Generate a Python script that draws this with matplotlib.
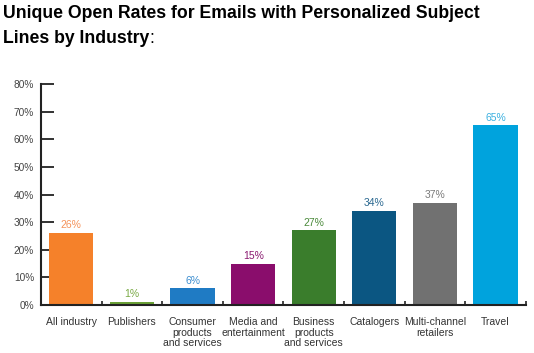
import matplotlib
matplotlib.use("Agg")
import matplotlib.pyplot as plt
import numpy as np

# data
categories = ["All industry", "Publishers", "Consumer\nproducts\nand services",
              "Media and\nentertainment", "Business\nproducts\nand services",
              "Catalogers", "Multi-channel\nretailers", "Travel"]
values = [26, 1, 6, 15, 27, 34, 37, 65]
bar_colors = ["#F5812A", "#6AA136", "#1F7BC4", "#8A0D6C",
              "#3A7D2C", "#0B5682", "#717171", "#00A3DD"]
label_colors = ["#F5925A", "#7AAA45", "#3A8DD0", "#8A1A70",
                "#4A8A3A", "#2A6890", "#7A7A7A", "#3AB0E0"]
yticks = [0, 10, 20, 30, 40, 50, 60, 70, 80]

plt.rcParams['font.family'] = ['Liberation Sans', 'DejaVu Sans']

fig = plt.figure(figsize=(5.34, 3.53), dpi=100)
ax = fig.add_axes([0.0768, 0.136, 0.908, 0.626])

x = np.arange(len(values))
bars = ax.bar(x, values, width=0.73, color=bar_colors, linewidth=0, zorder=2)

for xi, v, c in zip(x, values, label_colors):
    ax.annotate(f"{v}%", (xi, v), xytext=(0, 2), textcoords="offset points",
                ha="center", va="bottom", fontsize=7.5, color=c)

ax.set_xlim(-0.5, len(values) - 0.5)
ax.set_ylim(0, 80)
ax.set_yticks(yticks)
ax.set_yticklabels([f"{t}%" for t in yticks], fontsize=7.3, color="#444444")
ax.tick_params(axis="y", direction="in", length=9.5, width=1.3, color="#222222", pad=5)

ax.set_xticks(x)
ax.set_xticklabels(categories, fontsize=7.5, color="#333333", linespacing=1.05, va="top")
ax.tick_params(axis="x", which="major", length=0, pad=9)
ax.set_xticks(np.arange(len(values) + 1) - 0.5, minor=True)
ax.tick_params(axis="x", which="minor", direction="in", length=3, width=1.2, color="#222222")

for s in ["top", "right"]:
    ax.spines[s].set_visible(False)
for s in ["left", "bottom"]:
    ax.spines[s].set_linewidth(1.5)
    ax.spines[s].set_color("#222222")

# title
t1 = fig.text(0.006, 0.985, "Unique Open Rates for Emails with Personalized Subject",
              fontsize=12.7, fontweight="bold", va="top", ha="left")
t2 = fig.text(0.006, 0.915, "Lines by Industry", fontsize=12.7, fontweight="bold",
              va="top", ha="left")
ax.annotate(":", xy=(1, 0), xycoords=t2, va="bottom", ha="left", fontsize=12.7,
            annotation_clip=False)

fig.savefig("out.png", dpi=100)
